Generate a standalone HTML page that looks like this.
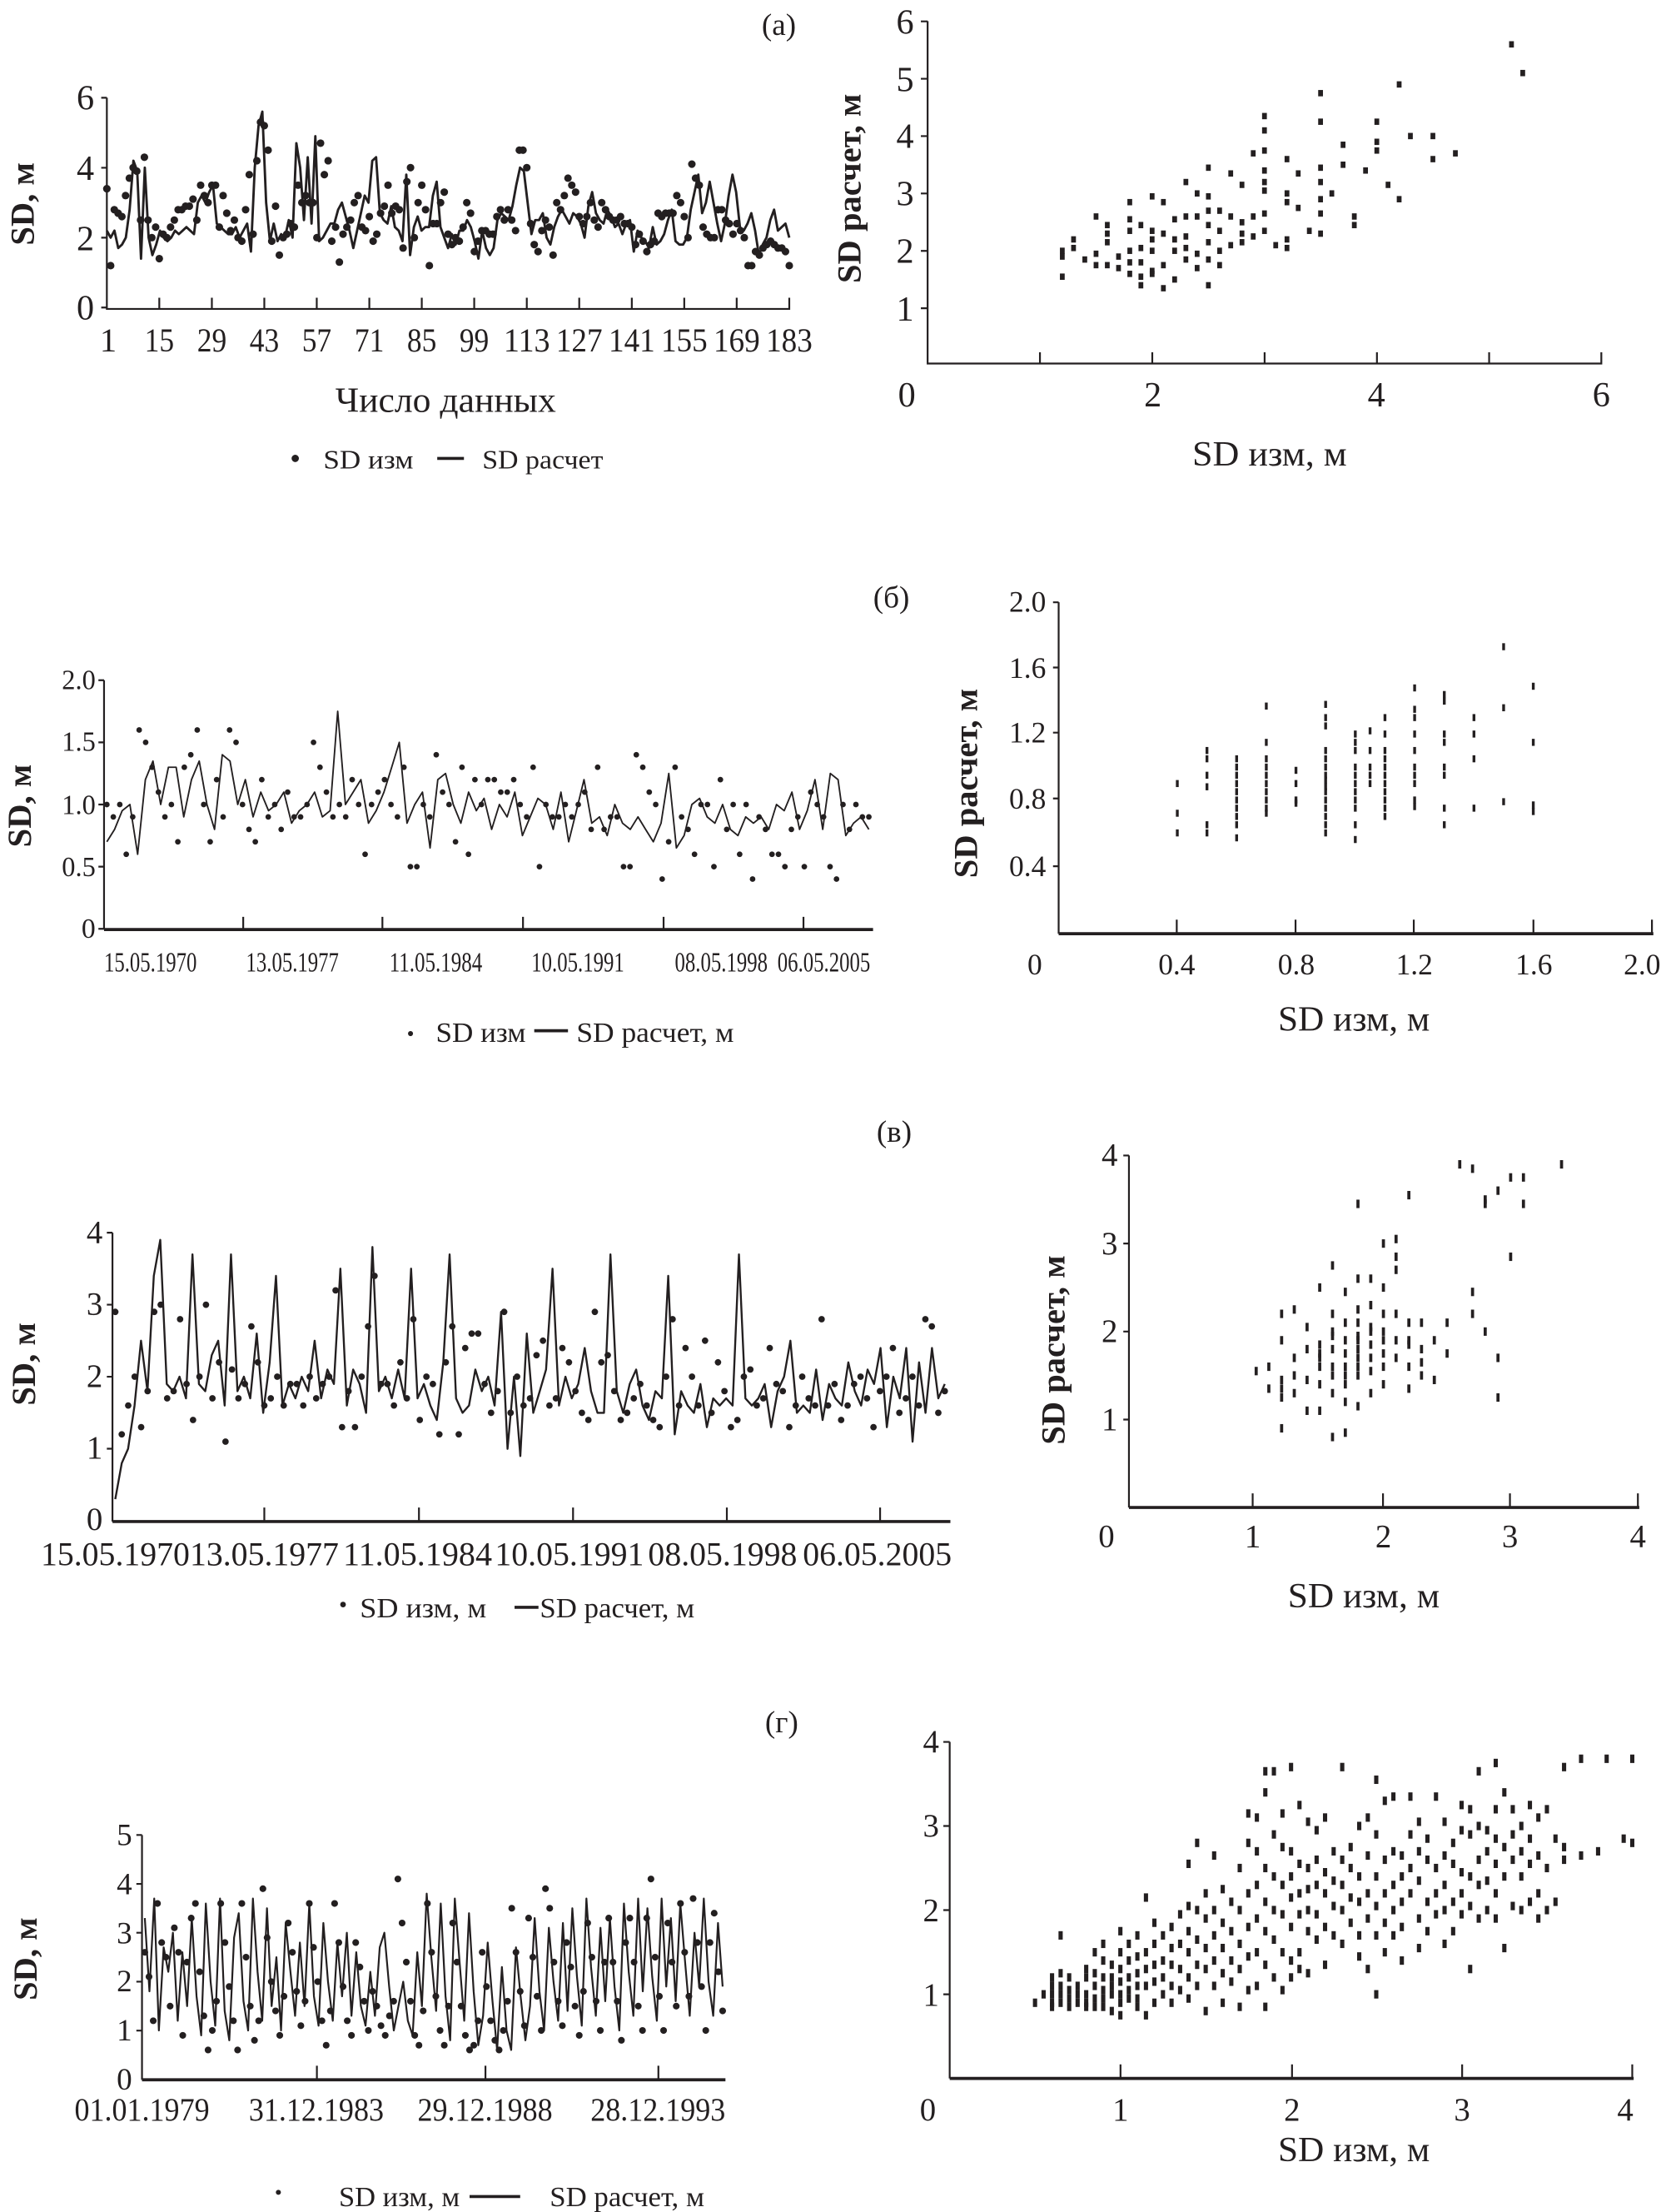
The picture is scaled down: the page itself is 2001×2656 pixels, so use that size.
<!DOCTYPE html>
<html><head><meta charset="utf-8"><style>
html,body{margin:0;padding:0;background:#fff}
svg{display:block}
text{font-family:"Liberation Serif","Noto Serif CJK SC",serif;fill:#231f20}
.ax{stroke:#231f20;stroke-width:1.3;fill:none}
.axt{stroke:#231f20;stroke-width:2.2;fill:none}
</style></head><body>
<svg id="chart" xmlns="http://www.w3.org/2000/svg" width="2001" height="2656" viewBox="0 0 1185 1573" preserveAspectRatio="none">
<rect x="0" y="0" width="1185" height="1573" fill="#fff"/>
<!-- Panel labels -->
<text x="554" y="25" font-size="22" text-anchor="middle">(а)</text>
<text x="634" y="432" font-size="22" text-anchor="middle">(б)</text>
<text x="636" y="812" font-size="22" text-anchor="middle">(в)</text>
<text x="556" y="1232" font-size="22" text-anchor="middle">(г)</text>

<!-- A left axes -->
<g>
<path class="ax" d="M76 69.5V219.7H561.4V211.7 M72 69.5H76 M72 119.3H76 M72 169H76 M72 218.7H76"/>
<path class="ax" d="M113.3 219.7V211.7M150.7 219.7V211.7M188 219.7V211.7M225.3 219.7V211.7M262.7 219.7V211.7M300 219.7V211.7M337.3 219.7V211.7M374.7 219.7V211.7M412 219.7V211.7M449.4 219.7V211.7M486.7 219.7V211.7M524 219.7V211.7"/>
</g>
<g font-size="25" text-anchor="end">
<text x="67" y="78">6</text><text x="67" y="128">4</text><text x="67" y="178">2</text><text x="67" y="227">0</text></g>
<g font-size="24" text-anchor="middle" lengthAdjust="spacingAndGlyphs">
<text x="77" y="250">1</text><text x="113.3" y="250" textLength="21" lengthAdjust="spacingAndGlyphs">15</text><text x="150.7" y="250" textLength="21" lengthAdjust="spacingAndGlyphs">29</text><text x="188" y="250" textLength="21" lengthAdjust="spacingAndGlyphs">43</text><text x="225.3" y="250" textLength="21" lengthAdjust="spacingAndGlyphs">57</text><text x="262.7" y="250" textLength="21" lengthAdjust="spacingAndGlyphs">71</text><text x="300" y="250" textLength="21" lengthAdjust="spacingAndGlyphs">85</text><text x="337.3" y="250" textLength="21" lengthAdjust="spacingAndGlyphs">99</text><text x="374.7" y="250" textLength="33" lengthAdjust="spacingAndGlyphs">113</text><text x="412" y="250" textLength="33" lengthAdjust="spacingAndGlyphs">127</text><text x="449.4" y="250" textLength="33" lengthAdjust="spacingAndGlyphs">141</text><text x="486.7" y="250" textLength="33" lengthAdjust="spacingAndGlyphs">155</text><text x="524" y="250" textLength="33" lengthAdjust="spacingAndGlyphs">169</text><text x="561.4" y="250" textLength="33" lengthAdjust="spacingAndGlyphs">183</text></g>
<text x="24" y="145" font-size="24" font-weight="bold" text-anchor="middle" transform="rotate(-90 24 145)">SD, м</text>
<text x="317" y="293" font-size="25" text-anchor="middle" textLength="157" lengthAdjust="spacingAndGlyphs">Число данных</text>
<g>
<circle cx="210" cy="326" r="2.6" fill="#231f20"/>
<text x="230" y="333" font-size="19" textLength="64" lengthAdjust="spacingAndGlyphs">SD изм</text>
<line x1="311" y1="326" x2="330" y2="326" stroke="#231f20" stroke-width="2.2"/>
<text x="343" y="333" font-size="19" textLength="86" lengthAdjust="spacingAndGlyphs">SD расчет</text></g>

<!-- A right axes -->
<g>
<path class="ax" d="M659.8 15V258.5H1139V250.5 M739.7 258.5V250.5M819.6 258.5V250.5M899.5 258.5V250.5M979.4 258.5V250.5M1059.2 258.5V250.5 M655 15.2H659.8M655 56H659.8M655 96.8H659.8M655 137.6H659.8M655 178.4H659.8M655 219.2H659.8"/></g>
<g font-size="25" text-anchor="end">
<text x="650" y="24">6</text><text x="650" y="65">5</text><text x="650" y="105">4</text><text x="650" y="146">3</text><text x="650" y="187">2</text><text x="650" y="228">1</text></g>
<g font-size="25" text-anchor="middle">
<text x="645" y="289">0</text><text x="820" y="289">2</text><text x="979" y="289">4</text><text x="1139" y="289">6</text></g>
<text x="612" y="134" font-size="24" font-weight="bold" text-anchor="middle" transform="rotate(-90 612 134)">SD расчет, м</text>
<text x="903" y="331" font-size="25" text-anchor="middle" textLength="110" lengthAdjust="spacingAndGlyphs">SD изм, м</text>

<!-- B left axes -->
<g>
<path class="ax" d="M74 483.7V661 M70 483.7H74M70 527.9H74M70 572.1H74M70 616.3H74M70 660.5H74 M173 661V652M272 661V652M372 661V652M472 661V652M571.5 661V652"/>
<path class="axt" d="M74 661H621"/></g>
<g font-size="20" text-anchor="end">
<text x="68" y="490" textLength="24" lengthAdjust="spacingAndGlyphs">2.0</text><text x="68" y="534" textLength="24" lengthAdjust="spacingAndGlyphs">1.5</text><text x="68" y="579" textLength="24" lengthAdjust="spacingAndGlyphs">1.0</text><text x="68" y="623" textLength="24" lengthAdjust="spacingAndGlyphs">0.5</text><text x="68" y="667">0</text></g>
<g font-size="20" text-anchor="middle">
<text x="107" y="691" textLength="66" lengthAdjust="spacingAndGlyphs">15.05.1970</text><text x="208" y="691" textLength="66" lengthAdjust="spacingAndGlyphs">13.05.1977</text><text x="310" y="691" textLength="66" lengthAdjust="spacingAndGlyphs">11.05.1984</text><text x="411" y="691" textLength="66" lengthAdjust="spacingAndGlyphs">10.05.1991</text><text x="513" y="691" textLength="66" lengthAdjust="spacingAndGlyphs">08.05.1998</text><text x="586" y="691" textLength="66" lengthAdjust="spacingAndGlyphs">06.05.2005</text></g>
<text x="22" y="573" font-size="24" font-weight="bold" text-anchor="middle" transform="rotate(-90 22 573)">SD, м</text>
<g>
<circle cx="292" cy="735" r="1.8" fill="#231f20"/>
<text x="310" y="741" font-size="20" textLength="64" lengthAdjust="spacingAndGlyphs">SD изм</text>
<line x1="380" y1="733" x2="404" y2="733" stroke="#231f20" stroke-width="2.2"/>
<text x="410" y="741" font-size="20" textLength="112" lengthAdjust="spacingAndGlyphs">SD расчет, м</text></g>

<!-- B right axes -->
<g>
<path class="ax" d="M753 428.3V664 M749 428.3H753M749 474.7H753M749 521H753M749 567.8H753M749 616H753 M837 664V654M921.5 664V654M1005.6 664V654M1090.7 664V654M1175 664V654"/>
<path class="axt" d="M753 664H1176"/></g>
<g font-size="21" text-anchor="end">
<text x="744" y="435">2.0</text><text x="744" y="482">1.6</text><text x="744" y="528">1.2</text><text x="744" y="575">0.8</text><text x="744" y="623">0.4</text></g>
<g font-size="21" text-anchor="middle">
<text x="736" y="693">0</text><text x="837" y="693">0.4</text><text x="922" y="693">0.8</text><text x="1006" y="693">1.2</text><text x="1091" y="693">1.6</text><text x="1168" y="693">2.0</text></g>
<text x="695" y="557" font-size="24" font-weight="bold" text-anchor="middle" transform="rotate(-90 695 557)">SD расчет, м</text>
<text x="963" y="733" font-size="25" text-anchor="middle" textLength="108" lengthAdjust="spacingAndGlyphs">SD изм, м</text>

<!-- V left axes -->
<g>
<path class="ax" d="M80 876.6V1082 M76 876.6H80M76 927.8H80M76 979H80M76 1030.2H80 M188 1082V1072M298 1082V1072M407.6 1082V1072M517 1082V1072M626 1082V1072"/>
<path class="axt" d="M80 1082H676"/></g>
<g font-size="23" text-anchor="end">
<text x="73" y="884">4</text><text x="73" y="935">3</text><text x="73" y="986">2</text><text x="73" y="1037">1</text><text x="73" y="1088">0</text></g>
<g font-size="24" text-anchor="middle">
<text x="82" y="1113" textLength="106" lengthAdjust="spacingAndGlyphs">15.05.1970</text><text x="188" y="1113" textLength="106" lengthAdjust="spacingAndGlyphs">13.05.1977</text><text x="297" y="1113" textLength="106" lengthAdjust="spacingAndGlyphs">11.05.1984</text><text x="405" y="1113" textLength="106" lengthAdjust="spacingAndGlyphs">10.05.1991</text><text x="514" y="1113" textLength="106" lengthAdjust="spacingAndGlyphs">08.05.1998</text><text x="624" y="1113" textLength="106" lengthAdjust="spacingAndGlyphs">06.05.2005</text></g>
<text x="25" y="970" font-size="24" font-weight="bold" text-anchor="middle" transform="rotate(-90 25 970)">SD, м</text>
<g>
<circle cx="244" cy="1141" r="2" fill="#231f20"/>
<text x="256" y="1150" font-size="20" textLength="90" lengthAdjust="spacingAndGlyphs">SD изм, м</text>
<line x1="366" y1="1143" x2="383" y2="1143" stroke="#231f20" stroke-width="2.2"/>
<text x="384" y="1150" font-size="20" textLength="110" lengthAdjust="spacingAndGlyphs">SD расчет, м</text></g>

<!-- V right axes -->
<g>
<path class="ax" d="M803 821.7V1072 M799 821.7H803M799 884.3H803M799 946.9H803M799 1009.5H803 M891 1072V1062M983.7 1072V1062M1074 1072V1062M1165 1072V1062"/>
<path class="axt" d="M803 1072H1166"/></g>
<g font-size="23" text-anchor="end">
<text x="795" y="829">4</text><text x="795" y="892">3</text><text x="795" y="954">2</text><text x="795" y="1017">1</text></g>
<g font-size="23" text-anchor="middle">
<text x="787" y="1100">0</text><text x="891" y="1100">1</text><text x="984" y="1100">2</text><text x="1074" y="1100">3</text><text x="1165" y="1100">4</text></g>
<text x="757" y="960" font-size="24" font-weight="bold" text-anchor="middle" transform="rotate(-90 757 960)">SD расчет, м</text>
<text x="970" y="1143" font-size="25" text-anchor="middle" textLength="108" lengthAdjust="spacingAndGlyphs">SD изм, м</text>

<!-- G left axes -->
<g>
<path class="ax" d="M101 1304.9V1479 M97 1304.9H101M97 1339.7H101M97 1374.4H101M97 1409.2H101M97 1444H101 M225.4 1479V1469M345.3 1479V1469M468.3 1479V1469"/>
<path class="axt" d="M101 1479H516"/></g>
<g font-size="22" text-anchor="end">
<text x="94" y="1312">5</text><text x="94" y="1347">4</text><text x="94" y="1382">3</text><text x="94" y="1416">2</text><text x="94" y="1451">1</text><text x="94" y="1486">0</text></g>
<g font-size="23" text-anchor="middle">
<text x="101" y="1508" textLength="96" lengthAdjust="spacingAndGlyphs">01.01.1979</text><text x="225" y="1508" textLength="96" lengthAdjust="spacingAndGlyphs">31.12.1983</text><text x="345" y="1508" textLength="96" lengthAdjust="spacingAndGlyphs">29.12.1988</text><text x="468" y="1508" textLength="96" lengthAdjust="spacingAndGlyphs">28.12.1993</text></g>
<text x="26" y="1393" font-size="24" font-weight="bold" text-anchor="middle" transform="rotate(-90 26 1393)">SD, м</text>
<g>
<circle cx="198" cy="1559" r="1.8" fill="#231f20"/>
<text x="241" y="1569" font-size="20" textLength="86" lengthAdjust="spacingAndGlyphs">SD изм, м</text>
<line x1="334" y1="1562" x2="370" y2="1562" stroke="#231f20" stroke-width="2.2"/>
<text x="391" y="1569" font-size="20" textLength="110" lengthAdjust="spacingAndGlyphs">SD расчет, м</text></g>

<!-- G right axes -->
<g>
<path class="ax" d="M675.5 1238.7V1478 M671 1238.7H675.5M671 1298.5H675.5M671 1358.3H675.5M671 1418.2H675.5 M797 1478V1468M919 1478V1468M1040 1478V1468M1161 1478V1468"/>
<path class="axt" d="M675.5 1478H1162"/></g>
<g font-size="23" text-anchor="end">
<text x="668" y="1246">4</text><text x="668" y="1306">3</text><text x="668" y="1366">2</text><text x="668" y="1426">1</text></g>
<g font-size="23" text-anchor="middle">
<text x="660" y="1508">0</text><text x="797" y="1508">1</text><text x="919" y="1508">2</text><text x="1040" y="1508">3</text><text x="1156" y="1508">4</text></g>
<text x="963" y="1537" font-size="25" text-anchor="middle" textLength="108" lengthAdjust="spacingAndGlyphs">SD изм, м</text>
</svg>
<script>
// ---- Panel A data ----
const aMeasured = [3.4,1.2,2.8,2.7,2.6,3.2,3.7,4.0,3.9,2.5,4.3,2.5,2.0,2.3,1.4,2.1,2.0,2.3,2.5,2.8,2.8,2.9,2.9,3.1,2.5,3.5,3.2,3.0,3.5,3.5,2.3,3.2,2.7,2.2,2.5,2.0,1.9,2.8,3.8,2.1,4.2,5.3,5.2,4.5,1.9,2.9,1.5,2.0,2.1,2.4,2.3,3.5,3.0,3.2,3.0,3.0,2.0,4.7,3.8,4.2,1.9,2.3,1.3,2.1,2.3,2.5,3.0,3.2,2.3,2.2,2.6,1.9,2.1,2.7,2.9,3.5,2.7,2.9,2.8,1.7,3.6,4.0,2.0,3.0,3.5,2.8,1.2,2.4,2.4,3.0,3.3,2.1,1.8,2.0,1.9,2.3,3.0,2.7,1.6,1.9,2.2,2.2,2.1,2.1,2.6,2.8,2.5,2.8,2.5,2.2,4.5,4.5,4.0,2.4,1.8,1.6,2.2,2.5,2.3,1.5,3.0,2.8,3.2,3.7,3.5,3.3,2.6,2.4,2.6,3.0,2.5,2.3,3.0,2.8,2.6,2.5,2.5,2.6,2.4,2.4,2.3,1.8,2.1,1.9,1.6,1.8,1.9,2.7,2.6,2.7,2.7,2.7,3.2,3.0,2.6,2.0,4.1,3.7,3.5,2.3,2.1,2.0,2.0,2.8,2.8,2.5,2.4,2.1,2.4,2.2,2.0,1.2,1.2,1.6,1.5,1.7,1.8,1.9,1.8,1.7,1.7,1.6,1.2];
const aCalculated = [2.2,2.0,2.2,1.7,1.8,2.0,2.8,4.2,3.9,1.4,4.0,2.0,1.5,1.8,2.2,2.0,1.9,2.0,2.2,2.1,2.2,2.3,2.2,2.1,3.0,3.2,3.0,3.3,3.5,2.4,2.3,2.2,2.1,2.1,2.3,2.0,2.2,2.4,1.6,4.0,5.2,5.6,3.0,1.9,2.4,1.9,2.1,2.0,2.5,2.0,4.7,4.0,2.5,4.3,2.4,4.9,1.9,2.0,2.2,2.4,2.4,2.8,3.0,2.6,2.2,1.7,2.2,2.7,3.2,3.0,4.2,4.3,2.7,2.5,2.4,2.9,2.3,2.2,1.9,3.8,1.5,2.3,2.6,2.2,2.3,2.3,3.2,3.6,2.3,2.0,1.7,2.1,1.8,2.2,2.2,2.5,2.3,1.9,1.4,2.2,1.7,1.5,1.7,2.5,2.7,2.6,2.5,2.9,3.5,4.0,3.9,3.0,2.1,2.5,2.5,2.7,2.0,1.8,2.3,2.6,2.8,2.6,2.4,2.7,2.6,2.4,2.0,2.9,3.3,2.7,2.5,2.4,2.8,2.6,2.3,2.4,2.1,2.4,2.5,1.6,2.2,2.0,1.9,1.7,2.3,1.8,1.9,2.1,2.5,2.8,1.9,1.8,1.8,2.0,2.8,3.3,3.8,2.7,3.0,3.6,3.0,2.4,1.9,2.4,3.2,3.8,3.3,2.3,2.2,2.4,2.7,2.2,1.5,1.8,2.0,2.5,2.8,2.2,2.3,2.4,2.0];
const aScatterX = [1.2,1.2,1.2,1.3,1.3,1.4,1.5,1.5,1.5,1.6,1.6,1.6,1.6,1.7,1.7,1.8,1.8,1.8,1.8,1.8,1.8,1.9,1.9,1.9,1.9,1.9,2.0,2.0,2.0,2.0,2.0,2.0,2.1,2.1,2.1,2.1,2.2,2.2,2.2,2.2,2.3,2.3,2.3,2.3,2.3,2.4,2.4,2.4,2.4,2.5,2.5,2.5,2.5,2.5,2.5,2.5,2.6,2.6,2.6,2.6,2.7,2.7,2.7,2.8,2.8,2.8,2.8,2.9,2.9,2.9,3.0,3.0,3.0,3.0,3.0,3.0,3.0,3.0,3.1,3.2,3.2,3.2,3.2,3.2,3.3,3.3,3.4,3.5,3.5,3.5,3.5,3.5,3.5,3.5,3.6,3.7,3.7,3.8,3.8,3.9,4.0,4.0,4.0,4.1,4.2,4.2,4.3,4.5,4.5,4.7,5.2,5.3];
const aScatterY = [2.0,1.9,1.55,2.2,2.05,1.85,2.6,1.95,1.75,2.45,2.3,2.15,1.75,1.9,1.7,2.85,2.55,2.35,2.0,1.8,1.6,2.45,2.05,1.8,1.55,1.4,2.95,2.35,2.2,2.0,1.65,1.6,2.85,2.3,1.75,1.35,2.55,2.2,2.0,1.5,3.2,2.6,2.25,2.05,1.85,3.0,2.6,1.95,1.7,3.45,2.95,2.7,2.45,2.15,1.85,1.4,2.7,2.35,2.0,1.75,3.35,2.6,2.1,3.15,2.5,2.3,2.15,3.7,2.6,2.25,4.35,4.1,3.75,3.4,3.2,3.05,2.65,2.35,2.1,3.6,3.0,2.85,2.2,2.05,3.35,2.75,2.35,4.75,4.25,3.45,3.2,2.9,2.65,2.3,3.0,3.85,3.5,2.6,2.45,3.4,4.25,3.9,3.75,3.15,4.9,2.9,4.0,4.0,3.6,3.7,5.6,5.1];
// ---- Panel B data ----
const bMeasured = [1.0,0.9,1.0,0.6,0.9,1.6,1.5,1.3,1.1,0.9,1.0,0.7,1.3,1.4,1.6,1.0,0.7,1.2,0.9,1.6,1.5,1.0,0.8,0.7,1.2,0.9,1.0,0.8,1.1,0.9,0.9,1.0,1.5,1.3,1.1,0.9,1.0,0.9,1.2,1.0,0.6,1.0,1.1,1.2,1.0,0.9,1.3,0.5,0.5,1.0,0.9,1.4,1.1,1.0,0.7,1.3,0.6,1.2,1.0,1.2,1.2,1.1,1.1,1.2,1.0,0.9,1.3,0.5,1.0,0.9,0.9,1.0,0.9,1.0,1.1,0.8,1.3,0.8,0.9,0.9,0.5,0.5,1.4,1.3,1.1,1.0,0.4,0.7,1.3,0.9,0.8,0.6,1.0,1.0,0.5,1.2,0.8,1.0,0.6,1.0,0.4,0.9,0.8,0.6,0.6,0.5,0.8,0.9,0.5,1.1,1.0,0.9,0.5,0.4,1.0,0.8,1.0,0.9,0.9];
const bCalculated = [0.7,0.8,0.95,1.0,0.6,1.2,1.35,1.0,1.3,1.3,0.9,1.2,1.35,1.0,0.8,1.4,1.35,1.0,1.2,0.9,1.1,0.95,1.0,1.1,0.85,0.95,1.0,1.1,0.9,0.95,1.75,1.0,1.1,1.2,0.85,0.95,1.1,1.3,1.5,0.85,1.0,1.1,0.65,1.2,1.25,1.0,0.85,1.1,0.95,1.05,0.8,1.0,0.9,1.1,0.75,0.9,1.05,1.0,0.8,1.1,0.7,0.95,1.2,0.85,0.9,0.75,1.0,0.85,0.8,0.9,0.8,0.7,0.85,1.25,0.65,0.75,1.0,1.05,0.9,0.85,1.0,0.8,0.75,0.9,0.85,0.9,0.8,1.0,0.95,1.1,0.8,0.95,1.2,0.8,1.25,1.2,0.75,0.85,0.9,0.8];
const bScatterX = [0.4,0.5,0.6,0.7,0.8,0.9,1.0,1.05,1.1,1.2,1.3,1.4,1.5,1.6];
const bScatterY = [[0.9,0.72,0.6],[1.1,1.05,0.95,0.88,0.65,0.6],[1.05,1.0,0.95,0.9,0.85,0.8,0.75,0.7,0.65,0.57],[1.37,1.15,1.05,1.0,0.95,0.9,0.85,0.8,0.75,0.72],[0.98,0.9,0.8,0.78],[1.38,1.3,1.25,1.1,1.05,1.0,0.95,0.92,0.88,0.85,0.8,0.75,0.7,0.65,0.6],[1.2,1.15,1.1,1.0,0.95,0.9,0.85,0.8,0.75,0.65,0.56],[1.22,1.1,1.0,0.95,0.9],[1.3,1.2,1.1,1.05,1.0,0.95,0.9,0.85,0.8,0.75,0.7],[1.48,1.35,1.3,1.2,1.1,1.0,0.95,0.9,0.8,0.76],[1.44,1.4,1.2,1.15,1.0,0.95,0.75,0.65],[1.3,1.2,1.05,0.75],[1.73,1.36,0.79],[1.49,1.15,0.77,0.73]];
// ---- Panel V data ----
const vMeasured = [2.9,1.2,1.6,2.0,1.3,1.8,2.9,3.0,1.7,1.8,2.8,1.9,1.4,2.0,3.0,1.7,2.2,1.1,2.1,1.7,1.9,2.7,2.2,1.6,1.7,2.0,1.6,1.9,1.9,1.6,2.0,1.7,1.9,2.0,3.2,1.3,1.8,1.3,2.0,2.7,3.4,1.9,1.9,1.6,2.2,1.7,2.8,1.4,2.0,1.9,1.2,2.2,2.7,1.2,2.4,2.6,2.6,1.9,1.5,1.8,2.9,1.5,2.0,1.6,1.7,2.3,2.5,1.6,1.7,2.4,2.2,1.8,1.5,1.4,2.9,2.2,2.3,1.8,1.4,1.5,1.7,1.9,1.6,1.4,1.3,2.0,2.8,1.6,2.4,2.0,1.6,2.5,1.5,2.2,1.8,1.3,1.4,2.0,2.1,1.6,1.7,2.4,1.9,1.8,1.3,1.6,2.0,1.7,1.6,2.8,1.6,1.9,1.4,1.6,1.9,2.0,1.7,1.3,1.8,2.0,2.4,1.5,1.7,2.0,1.6,2.8,2.7,1.5,1.8];
const vCalculated = [0.3,0.8,1.0,1.6,2.5,1.8,3.4,3.9,1.9,1.8,2.0,1.7,3.7,1.9,1.8,2.3,2.5,1.6,3.7,1.8,2.0,1.7,2.6,1.5,2.2,3.4,1.6,1.9,1.7,2.0,1.8,2.5,1.7,2.1,1.9,3.5,1.6,2.1,1.9,1.5,3.8,1.8,2.0,1.7,2.1,1.7,3.5,1.7,1.9,1.6,1.4,2.2,3.7,1.7,1.5,1.6,2.1,1.8,2.0,1.6,2.9,1.0,2.0,0.9,2.6,1.5,1.8,2.1,3.5,1.6,2.0,1.7,1.9,2.4,1.8,1.5,1.5,3.7,1.8,1.5,1.9,2.1,1.6,1.4,1.8,1.7,3.4,1.2,1.8,1.6,1.5,1.9,1.3,1.7,1.6,1.7,1.6,3.7,1.7,1.6,1.7,1.9,1.3,1.8,2.0,2.5,1.5,1.6,1.5,2.1,1.4,1.9,1.7,1.6,2.2,1.8,1.6,2.1,1.9,2.4,1.3,2.0,1.7,2.4,1.1,2.2,1.5,2.4,1.7,1.9];
const vScatterX = [1.0,1.1,1.1,1.2,1.2,1.2,1.2,1.2,1.3,1.3,1.3,1.3,1.4,1.4,1.4,1.4,1.5,1.5,1.5,1.5,1.5,1.5,1.6,1.6,1.6,1.6,1.6,1.6,1.6,1.6,1.7,1.7,1.7,1.7,1.7,1.7,1.7,1.7,1.7,1.8,1.8,1.8,1.8,1.8,1.8,1.8,1.8,1.8,1.8,1.9,1.9,1.9,1.9,1.9,1.9,1.9,2.0,2.0,2.0,2.0,2.0,2.0,2.0,2.0,2.1,2.1,2.1,2.1,2.1,2.1,2.2,2.2,2.2,2.2,2.2,2.3,2.3,2.3,2.4,2.4,2.5,2.5,2.6,2.7,2.7,2.7,2.8,2.8,2.8,2.9,2.9,2.9,3.0,3.0,3.1,3.1,3.4,1.8,1.6,1.5,1.2,1.9,2.2,2.3];
const vScatterY = [1.55,1.6,1.35,2.2,1.9,1.35,1.25,0.9,2.25,1.7,1.5,1.3,2.05,1.8,1.45,1.1,2.5,1.85,1.7,1.6,1.4,1.1,2.75,2.2,2.0,1.8,1.6,1.5,1.3,0.8,2.45,2.1,1.9,1.75,1.6,1.5,1.4,1.2,0.85,3.45,2.6,2.25,2.1,1.95,1.8,1.7,1.6,1.5,1.15,2.6,2.3,2.0,1.85,1.7,1.55,1.3,3.0,2.5,2.2,2.0,1.9,1.75,1.6,1.4,3.05,2.85,2.7,2.2,1.9,1.7,3.55,2.1,1.9,1.6,1.35,2.1,1.8,1.5,1.9,1.45,2.1,1.75,3.9,3.85,2.45,2.2,3.45,3.5,2.0,3.6,1.7,1.25,3.75,2.85,3.75,3.45,3.9,1.9,1.95,1.75,1.45,2.05,1.85,1.65];
// ---- Panel G data ----
const gMeasured = [2.6,2.1,1.2,3.6,2.8,2.5,1.5,3.1,2.6,0.9,2.4,3.3,3.6,2.2,1.3,0.6,1.0,1.6,3.6,2.8,1.9,1.2,0.6,3.6,2.5,1.5,0.8,1.2,3.9,2.9,2.0,1.4,0.9,1.7,3.2,2.6,1.8,1.1,1.6,3.6,2.7,2.0,1.2,0.7,1.4,3.6,2.8,1.9,1.2,0.9,2.8,2.3,1.6,1.0,1.8,1.5,1.1,0.9,1.3,1.6,4.1,3.2,2.4,1.6,0.9,0.7,1.4,3.6,2.6,1.7,1.0,0.7,1.5,3.2,2.4,1.5,0.9,0.6,0.7,1.2,2.6,1.9,1.2,0.8,0.6,1.0,1.6,3.5,2.6,1.8,1.1,3.3,2.5,1.7,1.0,3.9,3.5,2.4,1.6,1.1,2.8,2.3,1.5,0.9,1.8,3.2,2.5,1.6,1.0,2.4,3.3,2.4,1.6,0.8,2.8,3.3,2.4,1.5,1.0,3.3,4.1,2.5,1.7,1.0,3.2,2.4,1.5,3.6,2.6,1.7,3.7,2.8,1.9,1.0,2.8,3.4,2.2,1.4];
const gCalculated = [3.3,1.8,3.7,1.0,2.7,2.2,3.0,1.2,2.6,1.5,3.3,1.7,0.9,3.6,2.0,1.1,3.7,1.4,0.8,2.9,3.4,1.6,1.0,3.7,2.2,1.2,3.5,1.5,2.5,1.0,3.2,2.2,1.3,2.8,1.5,3.6,1.7,1.1,3.2,2.0,1.2,2.8,1.7,3.0,1.3,2.6,1.5,1.1,2.2,1.3,2.7,3.0,1.9,1.0,1.5,2.0,1.2,0.9,2.6,1.5,3.8,2.5,1.4,3.6,1.7,0.8,3.7,2.4,1.2,3.4,1.8,0.7,1.3,2.8,1.6,0.6,2.3,1.0,0.6,2.7,1.7,0.8,1.5,3.3,1.8,1.0,3.1,2.0,1.2,3.2,1.4,3.5,2.1,1.1,3.7,2.3,1.3,3.1,1.6,3.3,1.9,1.0,3.6,2.2,1.3,3.7,1.8,3.5,2.1,1.2,3.7,1.9,3.3,1.6,3.6,2.4,1.3,3.0,1.9,3.7,2.0,1.3,3.2,1.9];
const gScatterX = [0.5,0.55,0.6,0.65,0.7,0.75,0.8,0.85,0.9,0.95,1.0,1.05,1.1,1.15,1.2,1.25,1.3,1.35,1.4,1.45,1.5,1.55,1.6,1.65,1.7,1.75,1.8,1.85,1.9,1.95,2.0,2.05,2.1,2.15,2.2,2.25,2.3,2.35,2.4,2.45,2.5,2.55,2.6,2.65,2.7,2.75,2.8,2.85,2.9,2.95,3.0,3.05,3.1,3.15,3.2,3.25,3.3,3.35,3.4,3.45,3.5,3.55,3.6,3.7,3.8,3.85,3.95,4.0];
const gScatterY = [[0.9],[1.0],[1.2,1.1,1.0,0.9,0.85],[1.25,1.1,1.0,0.9,1.7],[1.2,1.05,0.95,0.85],[1.1,1.0,0.9],[1.3,1.2,1.0,0.9,0.85],[1.5,1.25,1.1,0.95,0.85],[1.6,1.4,1.2,1.05,0.95,0.85],[1.35,1.2,1.1,1.0,0.8],[1.75,1.5,1.3,1.15,1.0,0.9,0.75],[1.6,1.4,1.2,1.05,0.95],[1.7,1.45,1.25,1.1,0.95,0.85],[2.15,1.5,1.3,1.1,0.75],[1.85,1.6,1.35,1.15,0.9],[1.7,1.4,1.2,1.0],[1.8,1.55,1.35,1.1,0.9],[1.95,1.6,1.3,1.05],[2.55,2.05,1.75,1.5,1.2,0.95],[2.8,2.0,1.65,1.35,1.1],[2.2,1.9,1.55,1.3,0.8],[2.65,2.0,1.7,1.4,1.1],[2.25,1.85,1.55,1.25,0.9],[2.1,1.75,1.4,1.15],[2.5,2.0,1.6,1.3,0.85],[2.8,3.15,2.2,1.8,1.45,1.05],[3.1,2.7,2.3,1.9,1.5,1.1],[3.65,3.4,2.5,2.1,1.75,1.35,0.85],[3.65,2.9,2.4,2.0,1.65,1.2],[3.15,2.75,2.3,1.95,1.5,1.05],[3.7,2.7,2.4,2.15,1.8,1.4,1.2],[3.25,2.55,2.2,1.95,1.5,1.3],[3.05,2.5,2.25,2.0,1.75,1.25],[2.95,2.6,2.3,1.95,1.65],[3.1,2.45,2.2,1.8,1.35],[2.7,2.35,2.05,1.7],[3.7,2.6,2.3,2.0,1.6],[2.75,2.5,2.15,1.85],[3.0,2.4,2.1,1.7,1.45],[3.1,2.65,2.2,1.9,1.3],[3.55,2.9,2.4,2.05,1.7,1.0],[3.3,2.6,2.2,1.85,1.5],[3.35,2.7,2.3,2.0,1.7],[2.65,2.4,2.1,1.8,1.4],[3.35,2.9,2.5,2.2],[3.05,2.7,2.35,1.9,1.55],[2.85,2.6,2.1,1.75],[3.35,2.5,2.2,1.95],[3.05,2.65,2.3,2.0,1.6],[2.8,2.55,2.1,1.75],[3.25,2.95,2.45,2.2,1.95],[3.2,2.9,2.4,2.05,1.3],[3.65,3.0,2.6,2.3,1.9],[2.95,2.7,2.35,2.0],[3.75,3.2,2.85,2.55,2.2,1.9],[3.4,2.75,2.4,1.55],[3.2,2.9,2.6,2.05],[3.0,2.7,2.4,2.0],[3.25,2.85,2.55,2.1],[3.1,2.65,2.2,1.9],[3.2,2.5,2.0],[2.85,2.1],[3.7,2.75,2.6],[3.8,2.65],[2.7],[3.8],[2.85],[3.8,2.8]];

const NS = 'http://www.w3.org/2000/svg';
const svg = document.getElementById('chart');
function mk(tag, attrs) {
  const e = document.createElementNS(NS, tag);
  for (const k in attrs) e.setAttribute(k, attrs[k]);
  svg.appendChild(e);
  return e;
}
function linScale(d0, d1, r0, r1) { return v => r0 + (v - d0) * (r1 - r0) / (d1 - d0); }

// axis functions
const axA = { x: linScale(1, 183, 76, 561.4), y: linScale(0, 6, 218.7, 69.5) };
const axAs = { x: linScale(0, 6, 659.8, 1139), y: linScale(0, 6, 260, 15.2) };
const axB = { y: linScale(0, 2, 660.5, 483.7), x0: 76, x1: 618 };
const axBs = { x: linScale(0, 2, 753, 1175), y: linScale(0, 2, 662.6, 428.3) };
const axV = { y: linScale(0, 4, 1081.5, 876.6), x0: 82, x1: 672 };
const axVs = { x: linScale(0, 4, 803, 1165), y: linScale(0, 4, 1072, 821.7) };
const axG = { y: linScale(0, 5, 1478.7, 1304.9), x0: 103, x1: 514 };
const axGs = { x: linScale(0, 4, 675.5, 1161), y: linScale(0, 4, 1478, 1238.7) };

function seriesLine(vals, xf, yf, sw, name) {
  const d = vals.map((v, i) => (i ? 'L' : 'M') + xf(i, vals.length).toFixed(1) + ' ' + yf(v).toFixed(1)).join('');
  const p = mk('path', { d: d, fill: 'none', stroke: '#231f20', 'stroke-width': sw, 'stroke-linejoin': 'round' });
  
  
}
function seriesDots(vals, xf, yf, r, name) {
  vals.forEach((v, i) => {
    const c = mk('circle', { cx: xf(i, vals.length).toFixed(1), cy: yf(v).toFixed(1), r: r, fill: '#231f20' });
    
    
  });
}
function idxX(x0, x1) { return (i, n) => x0 + i * (x1 - x0) / (n - 1); }
function scatterMark(xv, yv, ax, w, h, name) {
  const r = mk('rect', { x: (ax.x(xv) - w / 2).toFixed(1), y: (ax.y(yv) - h / 2).toFixed(1), width: w, height: h, fill: '#231f20' });
  
  
}

// Panel A
const aIdx = (i, n) => axA.x(1 + i * 182 / (n - 1));
seriesLine(aCalculated, aIdx, axA.y, 1.7, 'a-calculated-line');
seriesDots(aMeasured, aIdx, axA.y, 2.7, 'a-measured-dot');
for (let i = 0; i < Math.min(aScatterX.length, aScatterY.length); i++) scatterMark(aScatterX[i], aScatterY[i], axAs, 3.4, 4.5, 'a-scatter-point');

// Panel B
const bIdx = idxX(axB.x0, axB.x1);
seriesLine(bCalculated, bIdx, axB.y, 1.1, 'b-calculated-line');
seriesDots(bMeasured, bIdx, axB.y, 2.0, 'b-measured-dot');
bScatterX.forEach((xv, j) => bScatterY[j].forEach(yv => scatterMark(xv, yv, axBs, 2, 5, 'b-scatter-point')));

// Panel V
const vIdx = idxX(axV.x0, axV.x1);
seriesLine(vCalculated, vIdx, axV.y, 1.4, 'v-calculated-line');
seriesDots(vMeasured, vIdx, axV.y, 2.3, 'v-measured-dot');
for (let i = 0; i < Math.min(vScatterX.length, vScatterY.length); i++) scatterMark(vScatterX[i], vScatterY[i], axVs, 2.2, 6, 'v-scatter-point');

// Panel G
const gIdx = idxX(axG.x0, axG.x1);
seriesLine(gCalculated, gIdx, axG.y, 1.3, 'g-calculated-line');
seriesDots(gMeasured, gIdx, axG.y, 2.4, 'g-measured-dot');
gScatterX.forEach((xv, j) => gScatterY[j].forEach(yv => scatterMark(xv, yv, axGs, 3, 6, 'g-scatter-point')));
</script>
</body></html>
